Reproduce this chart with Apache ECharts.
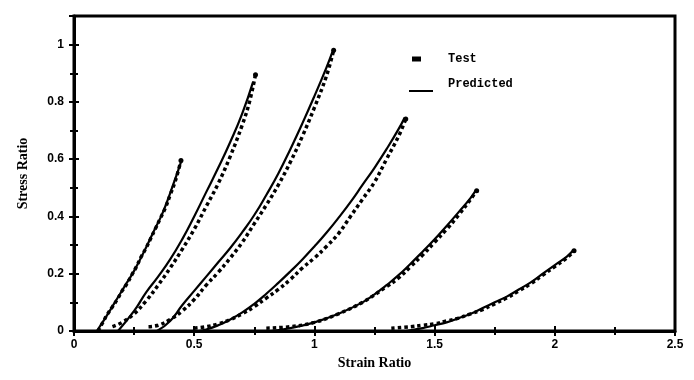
<!DOCTYPE html>
<html><head><meta charset="utf-8">
<script src="https://cdn.jsdelivr.net/npm/echarts@6/dist/echarts.min.js"></script>
<style>html,body{margin:0;padding:0;background:#fff}#c{width:694px;height:380px}</style>
</head><body><div id="c"></div>
<script>
// Test data (strain ratio, stress ratio)
const test1 = [[0.10,0.0],[0.12,0.03],[0.14,0.06],[0.16,0.085],[0.18,0.11],[0.20,0.14],[0.22,0.165],[0.24,0.195],[0.26,0.225],[0.28,0.26],[0.30,0.29],[0.32,0.325],[0.34,0.36],[0.36,0.395],[0.38,0.43],[0.40,0.475],[0.42,0.52],[0.445,0.595]];
const test2 = [[0.16,0.015],[0.20,0.03],[0.25,0.06],[0.30,0.105],[0.35,0.16],[0.40,0.22],[0.45,0.285],[0.50,0.355],[0.55,0.435],[0.60,0.515],[0.65,0.61],[0.70,0.72],[0.73,0.80],[0.755,0.895]];
const test3 = [[0.31,0.015],[0.35,0.02],[0.40,0.04],[0.45,0.07],[0.50,0.11],[0.55,0.16],[0.60,0.205],[0.65,0.255],[0.70,0.31],[0.75,0.375],[0.80,0.44],[0.85,0.51],[0.90,0.59],[0.95,0.68],[1.00,0.78],[1.05,0.89],[1.08,0.98]];
const test4 = [[0.50,0.01],[0.55,0.015],[0.60,0.025],[0.65,0.04],[0.70,0.06],[0.75,0.085],[0.80,0.115],[0.85,0.145],[0.90,0.18],[0.95,0.22],[1.00,0.255],[1.05,0.295],[1.10,0.34],[1.15,0.40],[1.20,0.46],[1.25,0.52],[1.30,0.60],[1.35,0.68],[1.38,0.74]];
const test5 = [[0.80,0.01],[0.90,0.015],[1.00,0.03],[1.10,0.06],[1.20,0.10],[1.30,0.155],[1.35,0.185],[1.40,0.225],[1.45,0.265],[1.50,0.31],[1.55,0.355],[1.60,0.405],[1.65,0.46],[1.675,0.49]];
const test6 = [[1.32,0.01],[1.40,0.015],[1.45,0.02],[1.50,0.025],[1.55,0.035],[1.60,0.045],[1.65,0.06],[1.70,0.075],[1.75,0.095],[1.80,0.115],[1.85,0.14],[1.90,0.165],[1.95,0.195],[2.00,0.225],[2.05,0.255],[2.08,0.28]];
// Predicted curves
const pred1 = [[0.095,0],[0.13,0.045],[0.17,0.10],[0.21,0.155],[0.25,0.21],[0.29,0.275],[0.33,0.345],[0.37,0.415],[0.41,0.505],[0.445,0.59]];
const pred2 = [[0.183,0],[0.25,0.07],[0.30,0.135],[0.35,0.19],[0.40,0.25],[0.45,0.32],[0.50,0.40],[0.55,0.485],[0.60,0.57],[0.65,0.66],[0.70,0.76],[0.745,0.87]];
const pred3 = [[0.345,0],[0.40,0.035],[0.45,0.09],[0.50,0.14],[0.55,0.19],[0.60,0.24],[0.65,0.29],[0.70,0.345],[0.75,0.405],[0.80,0.475],[0.85,0.55],[0.90,0.635],[0.95,0.725],[1.00,0.82],[1.05,0.92],[1.075,0.975]];
const pred4 = [[0.52,0],[0.55,0.005],[0.60,0.02],[0.65,0.04],[0.70,0.065],[0.75,0.095],[0.80,0.13],[0.85,0.168],[0.90,0.208],[0.95,0.25],[1.00,0.295],[1.05,0.343],[1.10,0.395],[1.15,0.45],[1.20,0.51],[1.25,0.57],[1.30,0.635],[1.35,0.705],[1.375,0.745]];
const pred5 = [[0.82,0],[0.90,0.01],[1.00,0.03],[1.10,0.06],[1.20,0.10],[1.25,0.128],[1.30,0.16],[1.35,0.195],[1.40,0.235],[1.45,0.277],[1.50,0.32],[1.55,0.367],[1.60,0.415],[1.65,0.465],[1.67,0.49]];
const pred6 = [[1.38,0],[1.45,0.01],[1.50,0.02],[1.55,0.03],[1.60,0.045],[1.65,0.06],[1.70,0.08],[1.75,0.10],[1.80,0.12],[1.85,0.145],[1.90,0.17],[1.95,0.20],[2.00,0.23],[2.05,0.26],[2.075,0.28]];

const xMin = 0, xMax = 2.5, xStep = 0.5;
const yMin = 0, yMax = 1.1, yStep = 0.2;
const tests = [test1,test2,test3,test4,test5,test6];
const preds = [pred1,pred2,pred3,pred4,pred5,pred6];

const chart = echarts.init(document.getElementById('c'));
const lblFont = {fontFamily:'Liberation Sans, Arial', fontWeight:'bold', fontSize:12, color:'#000'};
const nameFont = {fontFamily:'Liberation Serif, Times New Roman', fontWeight:'bold', fontSize:14, color:'#000'};
function xa(inside){
  return {type:'value', min:xMin, max:xMax, interval:xStep, position:'bottom',
    axisLine:{show:!inside, onZero:false, lineStyle:{color:'#000', width:3}},
    axisTick:{show:true, inside:inside, length:5, lineStyle:{color:'#000', width:2}},
    minorTick:{show:true, splitNumber:2, length:4, lineStyle:{color:'#000', width:2}},
    axisLabel:{show:!inside, margin:8, ...lblFont},
    splitLine:{show:false}, minorSplitLine:{show:false},
    name: inside ? '' : 'Strain Ratio', nameLocation:'middle', nameGap:24, nameTextStyle:nameFont};
}
function ya(inside){
  return {type:'value', min:yMin, max:yMax, interval:yStep, position:'left',
    axisLine:{show:!inside, onZero:false, lineStyle:{color:'#000', width:3}},
    axisTick:{show:true, inside:inside, length:5, lineStyle:{color:'#000', width:2}},
    minorTick:{show:true, splitNumber:2, length:4, lineStyle:{color:'#000', width:2}},
    axisLabel:{show:!inside, margin:10, showMaxLabel:false, ...lblFont},
    splitLine:{show:false}, minorSplitLine:{show:false},
    name: inside ? '' : 'Stress Ratio', nameLocation:'middle', nameGap:44, nameRotate:90, nameTextStyle:nameFont};
}
const series = [];
tests.forEach(d => series.push({name:'Test', type:'line', data:d, xAxisIndex:0, yAxisIndex:0,
  showSymbol:true, symbol:'circle', symbolSize:(v,p) => p.dataIndex === d.length-1 ? 5 : 0,
  smooth:0.4, color:'#000', itemStyle:{color:'#000'},
  lineStyle:{color:'#000', width:3.5, type:[3.5,3]}, z:3}));
preds.forEach(d => series.push({name:'Predicted', type:'line', data:d, xAxisIndex:0, yAxisIndex:0,
  showSymbol:false, smooth:0.5, color:'#000',
  lineStyle:{color:'#000', width:2.2}, z:4}));

const legFont = {fontFamily:'Liberation Mono, Courier New', fontWeight:'bold', fontSize:12, color:'#000'};
chart.setOption({
  animation:false,
  backgroundColor:'#fff',
  grid:{left:74, right:19, top:16, bottom:49, show:true, borderColor:'#000', borderWidth:3},
  xAxis:[xa(false), xa(true)],
  yAxis:[ya(false), ya(true)],
  legend:[
    {data:[{name:'Test', icon:'rect', itemStyle:{color:'#000', borderWidth:0}}], left:412, top:53, padding:0, itemWidth:9, itemHeight:5,
     selectedMode:false, textStyle:{...legFont, padding:[0,0,0,22]}},
    {data:[{name:'Predicted', icon:'path://M0,0L1,0L1,0.01L0,0.01Z M0,14L24,14L24,16L0,16Z', itemStyle:{color:'#000', borderWidth:0}}], left:409, top:76, padding:0, itemWidth:24, itemHeight:16,
     selectedMode:false, textStyle:{...legFont, padding:[0,0,0,10]}}
  ],
  series: series
});
</script></body></html>
